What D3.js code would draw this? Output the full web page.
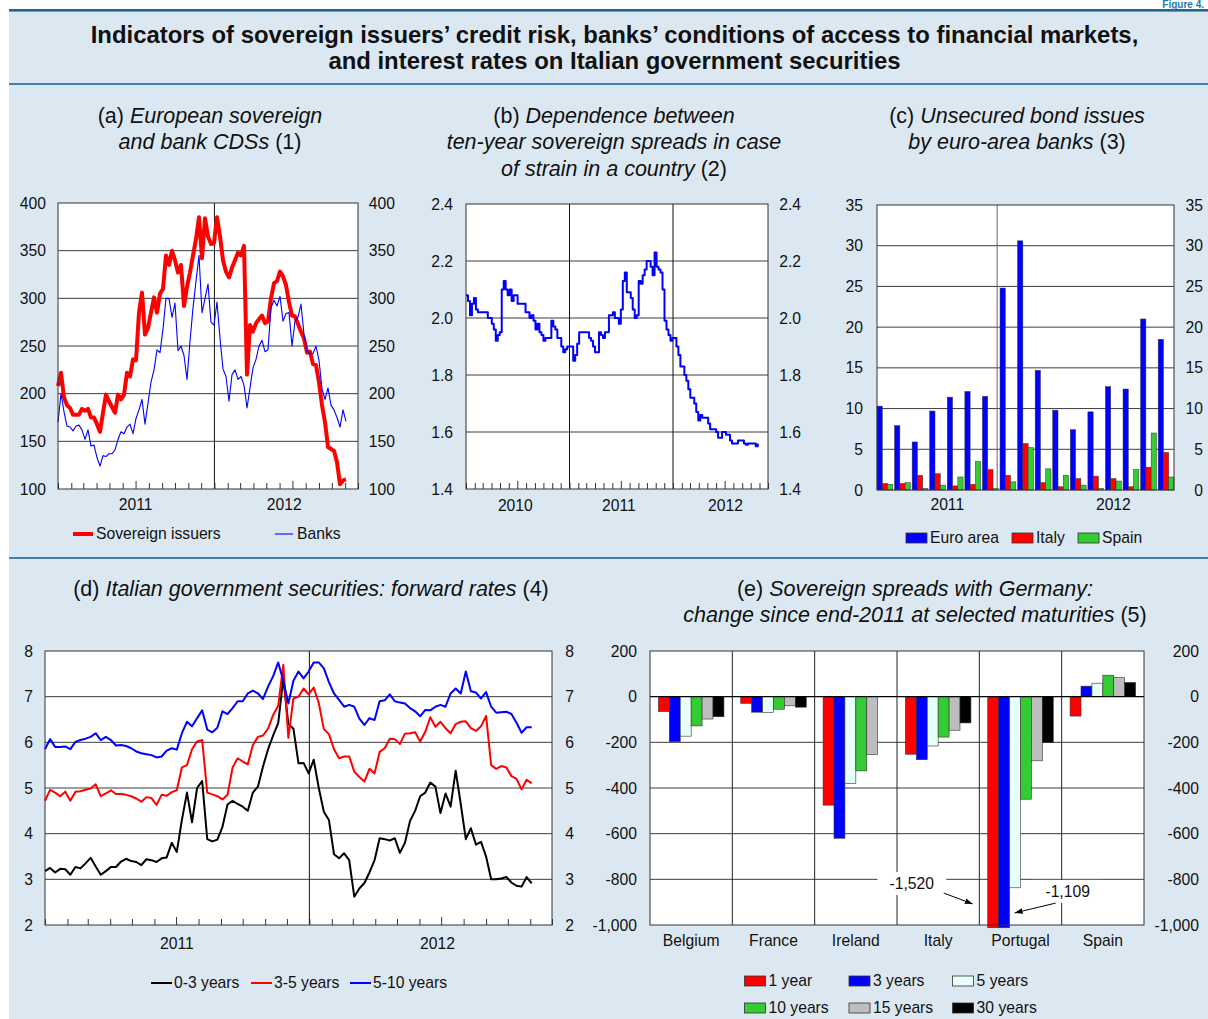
<!DOCTYPE html>
<html>
<head>
<meta charset="utf-8">
<title>Sovereign credit risk, bank funding and Italian government yields</title>
<script src="https://cdn.jsdelivr.net/npm/d3@7"></script>
<style>
  body { margin: 0; background: #fff; }
  svg { display: block; }
</style>
</head>
<body>
<svg id="chart" width="1208" height="1019"></svg>
<script>
// ---- data ----

// (a) weekly CDS premia from 2011-01-01, basis points
const sovereignCds = [
  208, 222, 196, 188, 185, 178, 178, 178, 184, 182,
  184, 175, 175, 168, 160, 180, 199, 192, 186, 180,
  199, 194, 199, 222, 218, 236, 235, 285, 306, 262,
  269, 285, 301, 285, 305, 310, 345, 335, 350, 340,
  327, 335, 292, 312, 327, 345, 362, 385, 342, 384,
  365, 357, 358, 385, 365, 340, 328, 322, 332, 340,
  348, 345, 355, 220, 272, 265, 274, 278, 282, 274,
  276, 300, 316, 318, 328, 323, 314, 296, 282, 281,
  273, 265, 258, 243, 244, 231, 230, 212, 188, 170,
  144, 142, 140, 128, 105, 109, 110
]
const bankCds = [
  170, 200, 181, 166, 165, 161, 166, 167, 162, 152,
  162, 145, 146, 133, 124, 135, 134, 137, 137, 141,
  152, 160, 158, 165, 168, 158, 174, 183, 194, 168,
  190, 212, 225, 246, 243, 268, 300, 300, 280, 295,
  245, 250, 240, 215, 255, 290, 318, 345, 285, 300,
  315, 275, 272, 296, 258, 226, 218, 192, 220, 225,
  215, 218, 209, 185, 206, 227, 236, 250, 256, 244,
  246, 290, 298, 292, 302, 276, 284, 285, 250, 276,
  280, 294, 262, 245, 242, 242, 250, 235, 205, 194,
  206, 188, 183, 175, 165, 183, 171
]

// (b) weekly from 2010-01-01
const spreadDependence = [
  2.08, 2.06, 2.01, 2.05, 2.07, 2.03, 2.02, 2.02, 2.02, 2.02,
  2.02, 2.00, 2.00, 1.98, 1.96, 1.92, 1.94, 1.95, 2.10, 2.13,
  2.10, 2.08, 2.10, 2.06, 2.08, 2.08, 2.05, 2.05, 2.05, 2.05,
  2.02, 2.02, 2.00, 2.01, 1.99, 1.96, 1.98, 1.95, 1.94, 1.92,
  1.93, 1.93, 1.93, 1.99, 1.97, 1.96, 1.93, 1.93, 1.90, 1.88,
  1.89, 1.90, 1.90, 1.90, 1.85, 1.87, 1.91, 1.95, 1.95, 1.95,
  1.95, 1.95, 1.93, 1.92, 1.90, 1.88, 1.88, 1.95, 1.94, 1.93,
  1.95, 1.95, 2.01, 2.01, 2.02, 2.00, 2.00, 1.98, 2.03, 2.13,
  2.16, 2.09, 2.09, 2.07, 2.03, 2.00, 2.01, 2.13, 2.12, 2.15,
  2.17, 2.20, 2.20, 2.18, 2.15, 2.23, 2.18, 2.17, 2.16, 2.10,
  1.99, 1.96, 1.94, 1.92, 1.93, 1.93, 1.90, 1.87, 1.83, 1.83,
  1.80, 1.78, 1.75, 1.72, 1.72, 1.70, 1.67, 1.64, 1.66, 1.65,
  1.65, 1.65, 1.63, 1.61, 1.61, 1.61, 1.60, 1.58, 1.58, 1.60,
  1.60, 1.59, 1.59, 1.57, 1.56, 1.56, 1.56, 1.57, 1.57, 1.57,
  1.56, 1.555, 1.56, 1.56, 1.56, 1.56, 1.55, 1.56
]

// (c) monthly gross issues, billions of euros
const issueMonths = [
  'Jun 2011', 'Jul 2011', 'Aug 2011', 'Sep 2011', 'Oct 2011', 'Nov 2011', 'Dec 2011',
  'Jan 2012', 'Feb 2012', 'Mar 2012', 'Apr 2012', 'May 2012', 'Jun 2012', 'Jul 2012',
  'Aug 2012', 'Sep 2012', 'Oct 2012'
]
const euroAreaIssues = [10.3, 7.9, 5.9, 9.7, 11.4, 12.1, 11.5, 24.8, 30.6, 14.7, 9.8, 7.4, 9.6, 12.7, 12.4, 21.0, 18.5]
const italyIssues = [0.8, 0.8, 1.8, 2.0, 0.5, 0.7, 2.5, 1.8, 5.7, 0.9, 0.4, 1.4, 1.7, 1.4, 0.4, 2.8, 4.6]
const spainIssues = [0.7, 0.9, 0.2, 0.6, 1.6, 3.5, 0.2, 1.0, 5.2, 2.6, 1.8, 0.6, 0.2, 1.1, 2.5, 7.0, 1.6]

// (d) weekly forward rates from 2011-01-01, per cent
const fwd0to3 = [
  3.18, 3.25, 3.15, 3.23, 3.22, 3.10, 3.27, 3.24, 3.35, 3.47,
  3.28, 3.10, 3.18, 3.27, 3.27, 3.39, 3.45, 3.40, 3.38, 3.31,
  3.44, 3.42, 3.38, 3.46, 3.48, 3.80, 3.60, 4.30, 4.90, 4.25,
  5.00, 5.15, 3.88, 3.83, 3.87, 4.15, 4.64, 4.72, 4.65, 4.59,
  4.50, 4.90, 5.03, 5.47, 5.85, 6.15, 6.42, 7.40, 6.40, 6.30,
  5.54, 5.55, 5.32, 5.62, 5.00, 4.48, 4.30, 3.55, 3.46, 3.57,
  3.42, 2.62, 2.80, 2.92, 3.15, 3.42, 3.90, 3.88, 3.85, 3.90,
  3.58, 3.80, 4.28, 4.50, 4.82, 4.90, 5.12, 5.03, 4.45, 4.88,
  4.59, 5.38, 4.65, 3.88, 4.12, 3.76, 3.82, 3.50, 3.00, 3.00,
  3.02, 3.05, 2.93, 2.86, 2.84, 3.05, 2.91
]
const fwd3to5 = [
  4.72, 4.96, 4.90, 4.82, 4.92, 4.72, 4.92, 4.93, 4.96, 4.99,
  5.08, 4.82, 4.88, 4.95, 4.87, 4.87, 4.85, 4.82, 4.77, 4.70,
  4.80, 4.78, 4.63, 4.85, 4.83, 4.91, 4.95, 5.45, 5.50, 5.85,
  6.02, 6.05, 4.90, 4.86, 4.82, 4.75, 4.85, 5.45, 5.65, 5.58,
  5.52, 5.94, 6.12, 6.15, 6.30, 6.60, 6.80, 7.70, 6.10, 6.96,
  7.00, 7.18, 7.05, 7.20, 6.86, 6.29, 6.18, 5.85, 5.65, 5.69,
  5.69, 5.36, 5.24, 5.14, 5.42, 5.32, 5.79, 5.87, 6.08, 6.07,
  5.96, 6.19, 6.20, 6.22, 6.02, 6.23, 6.55, 6.34, 6.45, 6.31,
  6.20, 6.40, 6.45, 6.46, 6.31, 6.25, 6.35, 6.58, 5.50, 5.42,
  5.48, 5.45, 5.26, 5.20, 4.97, 5.18, 5.10
]
const fwd5to10 = [
  5.85, 6.07, 5.90, 5.90, 5.91, 5.85, 6.01, 6.05, 6.08, 6.12,
  6.20, 6.05, 6.12, 6.05, 5.93, 5.94, 5.92, 5.87, 5.80, 5.76,
  5.74, 5.72, 5.67, 5.69, 5.82, 5.87, 5.84, 6.20, 6.45, 6.35,
  6.53, 6.70, 6.28, 6.22, 6.32, 6.68, 6.62, 6.75, 6.90, 6.90,
  7.07, 7.13, 7.07, 6.95, 7.22, 7.45, 7.75, 7.35, 6.85, 7.35,
  7.55, 7.40, 7.55, 7.75, 7.75, 7.62, 7.32, 7.07, 6.93, 6.78,
  6.82, 6.78, 6.52, 6.38, 6.53, 6.49, 6.90, 6.92, 7.05, 6.90,
  6.87, 6.85, 6.75, 6.68, 6.57, 6.71, 6.70, 6.78, 6.82, 6.78,
  7.07, 7.18, 7.07, 7.55, 7.12, 7.09, 6.96, 7.10, 6.78, 6.65,
  6.66, 6.67, 6.62, 6.43, 6.21, 6.33, 6.33
]

// (e) change in spread vs Germany since end-2011, basis points
const countries = ['Belgium', 'France', 'Ireland', 'Italy', 'Portugal', 'Spain']
const maturities = ['1 year', '3 years', '5 years', '10 years', '15 years', '30 years']
const spread1y = [-65, -29, -475, -252, -1520, -85]
const spread3y = [-197, -68, -620, -276, -1109, 46]
const spread5y = [-173, -70, -381, -216, -837, 59]
const spread10y = [-128, -55, -325, -177, -449, 94]
const spread15y = [-98, -40, -253, -147, -281, 85]
const spread30y = [-88, -46, null, -115, -201, 62]

// ---- drawing ----
const FONT = '"Liberation Sans", Arial, Helvetica, sans-serif'
const LABEL_SIZE = 15.7
const BG = '#dce8f1'
const RULE = '#22658f'
const GRID = '#3c3c3c'
const parse = d3.timeParse('%Y-%m-%d')
const fmtMinus = d3.formatLocale({ decimal: '.', thousands: ',', grouping: [3], currency: ['', ''], minus: '-' })

const weekly = (start, values) => {
	const t0 = parse(start)
	return values.map((v, i) => ({ date: d3.timeDay.offset(t0, 7 * i), value: v }))
}

const svg = d3.select('#chart')

svg.append('rect').attr('width', 1208).attr('height', 1019).attr('fill', '#fff')
svg.append('rect').attr('x', 9).attr('y', 11).attr('width', 1199).attr('height', 1008).attr('fill', BG)
svg.append('rect').attr('x', 9).attr('y', 9).attr('width', 1199).attr('height', 2.6).attr('fill', RULE)
;[84, 558].forEach((yy) =>
	svg.append('rect').attr('x', 9).attr('y', yy - 0.8).attr('width', 1199).attr('height', 1.6).attr('fill', RULE)
)

svg.append('text')
	.attr('x', 1204)
	.attr('y', 8)
	.attr('text-anchor', 'end')
	.style('font-family', FONT)
	.style('font-size', '10px')
	.style('font-weight', 'bold')
	.attr('fill', '#1c78ad')
	.text('Figure 4.')

// parts: [text, italic]
function richText(x, y, parts, size, opts = {}) {
	const t = svg.append('text')
		.attr('x', x)
		.attr('y', y)
		.attr('text-anchor', opts.anchor || 'middle')
		.style('font-family', FONT)
		.style('font-size', size + 'px')
		.style('font-weight', opts.bold ? 'bold' : 'normal')
		.attr('fill', '#111')
	parts.forEach(([s, it]) => t.append('tspan').style('font-style', it ? 'italic' : 'normal').text(s))
	return t
}

richText(614.5, 43, [['Indicators of sovereign issuers’ credit risk, banks’ conditions of access to financial markets,', false]], 23.9, { bold: true })
richText(614.5, 69, [['and interest rates on Italian government securities', false]], 23.9, { bold: true })

const subtitles = [
	[210, 123, [['(a) ', 0], ['European sovereign', 1]]],
	[210, 149, [['and bank CDSs', 1], [' (1)', 0]]],
	[614, 123, [['(b) ', 0], ['Dependence between', 1]]],
	[614, 149, [['ten-year sovereign spreads in case', 1]]],
	[614, 176, [['of strain in a country', 1], [' (2)', 0]]],
	[1017, 123, [['(c) ', 0], ['Unsecured bond issues', 1]]],
	[1017, 149, [['by euro-area banks', 1], [' (3)', 0]]],
	[311, 596, [['(d) ', 0], ['Italian government securities: forward rates', 1], [' (4)', 0]]],
	[915, 596, [['(e) ', 0], ['Sovereign spreads with Germany:', 1]]],
	[915, 622, [['change since end-2011 at selected maturities', 1], [' (5)', 0]]],
]
subtitles.forEach(([x, y, parts]) => richText(x, y, parts, 21.5))

function valueLabels(g, y, ticks, fmt, xPos) {
	g.append('g')
		.attr('transform', `translate(${xPos},0)`)
		.call(d3.axisLeft(y).tickValues(ticks).tickFormat(fmt).tickSize(0).tickPadding(0))
		.call((a) => a.select('.domain').remove())
		.selectAll('text')
		.style('font-family', FONT)
		.style('font-size', LABEL_SIZE + 'px')
		.attr('fill', '#111')
}

function bottomText(g, x, y, s, anchor = 'middle') {
	g.append('text')
		.attr('x', x)
		.attr('y', y)
		.attr('text-anchor', anchor)
		.style('font-family', FONT)
		.style('font-size', LABEL_SIZE + 'px')
		.attr('fill', '#111')
		.text(s)
}

function linePanel(cfg) {
	const g = svg.append('g')
	const x = d3.scaleTime().domain(cfg.xDomain.map(parse)).range([cfg.left, cfg.right])
	const y = d3.scaleLinear().domain(cfg.yDomain).range([cfg.bottom, cfg.top])

	g.append('rect')
		.attr('x', cfg.left).attr('y', cfg.top)
		.attr('width', cfg.right - cfg.left).attr('height', cfg.bottom - cfg.top)
		.attr('fill', '#fff')

	g.append('g').selectAll('line')
		.data(cfg.yTicks.slice(1, -1))
		.join('line')
		.attr('x1', cfg.left).attr('x2', cfg.right)
		.attr('y1', (d) => y(d)).attr('y2', (d) => y(d))
		.attr('stroke', GRID)

	g.append('g').selectAll('line')
		.data(cfg.dividers.map(parse))
		.join('line')
		.attr('x1', (d) => x(d)).attr('x2', (d) => x(d))
		.attr('y1', cfg.top).attr('y2', cfg.bottom)
		.attr('stroke', '#111')

	const ax = g.append('g')
		.attr('transform', `translate(0,${cfg.bottom})`)
		.call(d3.axisBottom(x).ticks(d3.timeMonth.every(1)).tickSize(0).tickFormat(''))
	ax.select('.domain').remove()
	ax.selectAll('.tick line')
		.attr('y2', (d) => (d.getMonth() === 6 ? -8 : -6))
		.attr('stroke', '#333')

	cfg.series.forEach((s) => {
		const line = d3.line()
			.x((d) => x(d.date))
			.y((d) => y(d.value))
			.curve(s.curve || d3.curveLinear)
		g.append('path')
			.datum(s.data)
			.attr('d', line)
			.attr('fill', 'none')
			.attr('stroke', s.color)
			.attr('stroke-width', s.width)
			.attr('stroke-linejoin', 'round')
	})

	g.append('rect')
		.attr('x', cfg.left).attr('y', cfg.top)
		.attr('width', cfg.right - cfg.left).attr('height', cfg.bottom - cfg.top)
		.attr('fill', 'none').attr('stroke', '#333')

	valueLabels(g, y, cfg.yTicks, cfg.fmt, cfg.leftX)
	valueLabels(g, y, cfg.yTicks, cfg.fmt, cfg.rightX)
	cfg.years.forEach(([s, d]) => bottomText(g, x(parse(d)), cfg.yearY, s))
	return g
}

// (a)
const gA = linePanel({
	left: 58, right: 358, top: 203, bottom: 489,
	xDomain: ['2011-01-01', '2012-12-01'],
	yDomain: [100, 400], yTicks: d3.range(100, 401, 50), fmt: d3.format('d'),
	leftX: 46, rightX: 395,
	dividers: ['2012-01-01'],
	years: [['2011', '2011-07-01'], ['2012', '2012-06-12']], yearY: 510,
	series: [
		{ data: weekly('2011-01-01', sovereignCds), color: '#ff0000', width: 4 },
		{ data: weekly('2011-01-01', bankCds), color: '#0000ff', width: 1.1 },
	],
})
gA.append('line').attr('x1', 73).attr('x2', 93).attr('y1', 534).attr('y2', 534).attr('stroke', '#ff0000').attr('stroke-width', 4)
bottomText(gA, 96, 539, 'Sovereign issuers', 'start')
gA.append('line').attr('x1', 275).attr('x2', 293).attr('y1', 534).attr('y2', 534).attr('stroke', '#0000ff').attr('stroke-width', 1.1)
bottomText(gA, 297, 539, 'Banks', 'start')

// (b)
linePanel({
	left: 466, right: 768, top: 204, bottom: 489,
	xDomain: ['2010-01-01', '2012-12-01'],
	yDomain: [1.4, 2.4], yTicks: [1.4, 1.6, 1.8, 2.0, 2.2, 2.4], fmt: d3.format('.1f'),
	leftX: 453, rightX: 801,
	dividers: ['2011-01-01', '2012-01-01'],
	years: [['2010', '2010-06-24'], ['2011', '2011-06-24'], ['2012', '2012-07-04']], yearY: 511,
	series: [{ data: weekly('2010-01-01', spreadDependence), color: '#0000ff', width: 2, curve: d3.curveStepAfter }],
})

// (d)
const gD = linePanel({
	left: 45, right: 552, top: 651, bottom: 925,
	xDomain: ['2011-01-01', '2012-12-01'],
	yDomain: [2, 8], yTicks: d3.range(2, 9), fmt: d3.format('d'),
	leftX: 33, rightX: 574,
	dividers: ['2012-01-01'],
	years: [['2011', '2011-07-02'], ['2012', '2012-06-26']], yearY: 949,
	series: [
		{ data: weekly('2011-01-01', fwd0to3), color: '#000000', width: 2 },
		{ data: weekly('2011-01-01', fwd3to5), color: '#ff0000', width: 2 },
		{ data: weekly('2011-01-01', fwd5to10), color: '#0000ff', width: 2 },
	],
})
;[['0-3 years', '#000', 151], ['3-5 years', '#ff0000', 251], ['5-10 years', '#0000ff', 350]].forEach(([s, c, lx]) => {
	gD.append('line').attr('x1', lx).attr('x2', lx + 21).attr('y1', 983).attr('y2', 983).attr('stroke', c).attr('stroke-width', 2)
	bottomText(gD, lx + 23, 988, s, 'start')
})

// (c) bars
{
	const L = 877, R = 1174, T = 205, B = 490
	const g = svg.append('g')
	const x = d3.scaleBand().domain(issueMonths).range([L, R]).paddingInner(0.1).paddingOuter(0)
	const groups = ['Euro area', 'Italy', 'Spain']
	const xs = d3.scaleBand().domain(groups).range([0, x.bandwidth()])
	const y = d3.scaleLinear().domain([0, 35]).range([B, T])
	const colour = d3.scaleOrdinal().domain(groups).range(['#0000ff', '#ff0000', '#33cc33'])
	const rows = issueMonths.map((m, i) => ({ m, vals: [euroAreaIssues[i], italyIssues[i], spainIssues[i]] }))

	g.append('rect').attr('x', L).attr('y', T).attr('width', R - L).attr('height', B - T).attr('fill', '#fff')
	g.append('g').selectAll('line').data(d3.range(5, 35, 5)).join('line')
		.attr('x1', L).attr('x2', R).attr('y1', (d) => y(d)).attr('y2', (d) => y(d)).attr('stroke', GRID)
	const divX = (x('Dec 2011') + x.bandwidth() + x('Jan 2012')) / 2
	g.append('line').attr('x1', divX - 2).attr('x2', divX - 2).attr('y1', T).attr('y2', B).attr('stroke', '#666')

	g.append('g').selectAll('g').data(rows).join('g')
		.attr('transform', (d) => `translate(${x(d.m)},0)`)
		.selectAll('rect')
		.data((d) => d.vals.map((v, k) => ({ key: groups[k], v })))
		.join('rect')
		.attr('x', (d) => xs(d.key))
		.attr('width', xs.bandwidth())
		.attr('y', (d) => y(d.v))
		.attr('height', (d) => y(0) - y(d.v))
		.attr('fill', (d) => colour(d.key))
		.attr('stroke', '#333').attr('stroke-width', 0.5)

	g.append('rect').attr('x', L).attr('y', T).attr('width', R - L).attr('height', B - T).attr('fill', 'none').attr('stroke', '#333')
	valueLabels(g, y, d3.range(0, 36, 5), d3.format('d'), 863)
	valueLabels(g, y, d3.range(0, 36, 5), d3.format('d'), 1203)
	;[['2011', 'Oct 2011', 0], ['2012', 'Jul 2012', 0.5]].forEach(([s, m, f]) =>
		bottomText(g, x(m) + f * x.bandwidth(), 510, s)
	)
	;[['Euro area', 906], ['Italy', 1012], ['Spain', 1078]].forEach(([s, lx]) => {
		g.append('rect').attr('x', lx).attr('y', 533).attr('width', 21).attr('height', 10)
			.attr('fill', colour(s)).attr('stroke', '#333').attr('stroke-width', 0.8)
		bottomText(g, lx + 24, 543, s, 'start')
	})
}

// (e) bars
{
	const L = 650, R = 1144, T = 651, B = 925
	const g = svg.append('g')
	const x = d3.scaleBand().domain(countries).range([L, R])
	const xs = d3.scaleBand().domain(maturities).range([0, x.bandwidth()]).paddingOuter(0.77)
	const y = d3.scaleLinear().domain([-1000, 200]).range([B, T])
	const colour = d3.scaleOrdinal().domain(maturities)
		.range(['#ff0000', '#0000ff', '#e6fff9', '#33cc33', '#bdbdbd', '#000000'])
	const series = [spread1y, spread3y, spread5y, spread10y, spread15y, spread30y]
	const ticks = d3.range(-1000, 201, 200)
	const fmt = fmtMinus.format(',')

	g.append('rect').attr('x', L).attr('y', T).attr('width', R - L).attr('height', B - T).attr('fill', '#fff')
	g.append('g').selectAll('line').data(ticks.filter((t) => t !== 0 && t > -1000 && t < 200)).join('line')
		.attr('x1', L).attr('x2', R).attr('y1', (d) => y(d)).attr('y2', (d) => y(d)).attr('stroke', GRID)
	g.append('g').selectAll('line').data(countries.slice(1)).join('line')
		.attr('x1', (d) => x(d)).attr('x2', (d) => x(d)).attr('y1', T).attr('y2', B).attr('stroke', '#222')

	const bars = countries.flatMap((c, i) =>
		maturities.map((m, k) => ({ c, m, v: series[k][i] })).filter((d) => d.v !== null)
	)
	const floor = -1012
	g.append('g').selectAll('rect').data(bars).join('rect')
		.attr('x', (d) => x(d.c) + xs(d.m))
		.attr('width', xs.bandwidth())
		.attr('y', (d) => y(Math.max(0, d.v)))
		.attr('height', (d) => Math.abs(y(Math.max(d.v, floor)) - y(0)))
		.attr('fill', (d) => colour(d.m))
		.attr('stroke', '#333').attr('stroke-width', 0.6)

	g.append('line').attr('x1', L).attr('x2', R).attr('y1', y(0)).attr('y2', y(0)).attr('stroke', '#000').attr('stroke-width', 1.4)
	g.append('rect').attr('x', L).attr('y', T).attr('width', R - L).attr('height', B - T).attr('fill', 'none').attr('stroke', '#333')

	// call-outs for the bars that run off the scale
	svg.append('defs').append('marker')
		.attr('id', 'arrowhead')
		.attr('viewBox', '0 0 10 10')
		.attr('refX', 10).attr('refY', 5)
		.attr('markerWidth', 8).attr('markerHeight', 8)
		.attr('orient', 'auto')
		.append('path').attr('d', 'M0,1.5L10,5L0,8.5Z').attr('fill', '#000')
	const callouts = [
		{ m: '1 year', v: spread1y[4], textDx: -76, textV: -842, tailDx: -44, tailV: -860, tipDx: -15, tipV: -908 },
		{ m: '3 years', v: spread3y[4], textDx: 69, textV: -877, tailDx: 57, tailV: -904, tipDx: 16, tipV: -947 },
	]
	callouts.forEach((a) => {
		const bx = x('Portugal') + xs(a.m)
		const t = g.append('text')
			.attr('x', bx + a.textDx).attr('y', y(a.textV))
			.attr('text-anchor', 'middle')
			.style('font-family', FONT).style('font-size', LABEL_SIZE + 'px').attr('fill', '#111')
			.text(fmt(a.v))
		const bb = t.node().getBBox()
		g.insert('rect', () => t.node())
			.attr('x', bb.x - 12).attr('y', bb.y - 3).attr('width', bb.width + 24).attr('height', bb.height + 6)
			.attr('fill', '#fff')
		g.append('line')
			.attr('x1', bx + a.tailDx).attr('y1', y(a.tailV))
			.attr('x2', bx + a.tipDx).attr('y2', y(a.tipV))
			.attr('stroke', '#000').attr('stroke-width', 1)
			.attr('marker-end', 'url(#arrowhead)')
	})

	valueLabels(g, y, ticks, fmt, 637)
	valueLabels(g, y, ticks, fmt, 1199)
	countries.forEach((c) => bottomText(g, x(c) + x.bandwidth() / 2, 946, c))

	const legendRows = [981, 1008]
	const legendCols = [744.5, 849, 952.6]
	maturities.forEach((m, i) => {
		const lx = legendCols[i % 3]
		const ly = legendRows[Math.floor(i / 3)]
		g.append('rect').attr('x', lx).attr('y', ly - 5).attr('width', 21).attr('height', 10)
			.attr('fill', colour(m)).attr('stroke', '#333').attr('stroke-width', 0.8)
		bottomText(g, lx + 24, ly + 5, m, 'start')
	})
}
</script>
</body>
</html>
